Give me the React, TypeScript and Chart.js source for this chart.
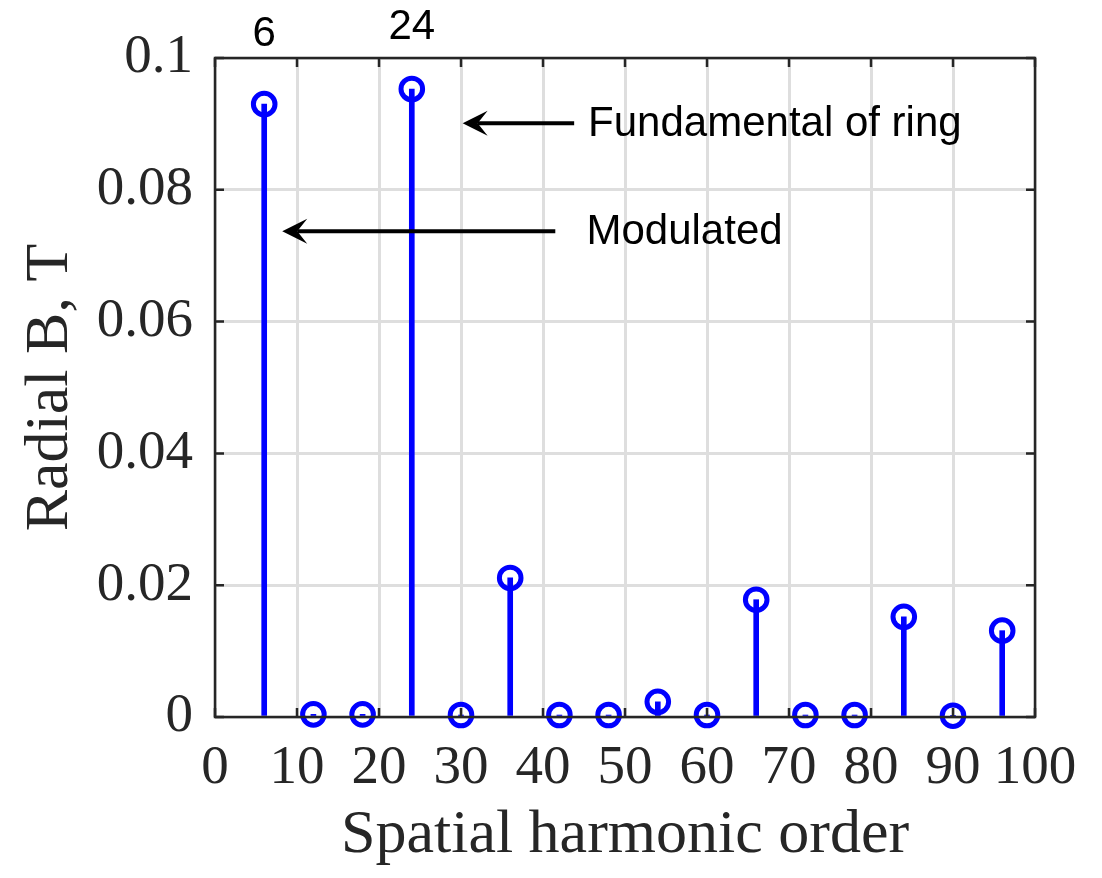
import React, { useEffect, useRef } from 'react';
import { Chart, registerables } from 'chart.js';

Chart.register(...registerables);

// ---- data ----
const harmonicOrders = [6, 12, 18, 24, 30, 36, 42, 48, 54, 60, 66, 72, 78, 84, 90, 96];
const radialB = [0.093, 0.0004, 0.0004, 0.0953, 0.0003, 0.0211, 0.0003, 0.0003, 0.0023, 0.0003, 0.0178, 0.0003, 0.0003, 0.0152, 0.0002, 0.0131];
const xTickValues = [0, 10, 20, 30, 40, 50, 60, 70, 80, 90, 100];
const yTickValues = [0, 0.02, 0.04, 0.06, 0.08, 0.1];
const peakOrders = [6, 24];
const peakLabels = ['6', '24'];
const peakLabelY = [0.1036, 0.1047];
const annotationTexts = ['Fundamental of ring', 'Modulated'];
const annotationTextX = [45.5, 45.3];
const annotationTextY = [0.0899, 0.0735];
const arrowTailX = [43.8, 41.5];
const arrowTipX = [30.2, 8.2];
const arrowY = [0.0901, 0.0737];

const AXIS_COLOR = '#262626';
const STEM_COLOR = '#0000ff';

const decorPlugin = {
  id: 'decor',
  afterDatasetsDraw(chart: any) {
    const ctx = chart.ctx as CanvasRenderingContext2D;
    const { left, right, top, bottom } = chart.chartArea;
    const xs = chart.scales.x;
    const ys = chart.scales.y;
    ctx.save();
    // inner ticks
    ctx.strokeStyle = AXIS_COLOR;
    ctx.lineWidth = 2.5;
    const tl = 9;
    xTickValues.forEach((v) => {
      const px = xs.getPixelForValue(v);
      ctx.beginPath();
      ctx.moveTo(px, bottom);
      ctx.lineTo(px, bottom - tl);
      ctx.moveTo(px, top);
      ctx.lineTo(px, top + tl);
      ctx.stroke();
    });
    yTickValues.forEach((v) => {
      const py = ys.getPixelForValue(v);
      ctx.beginPath();
      ctx.moveTo(left, py);
      ctx.lineTo(left + tl, py);
      ctx.moveTo(right, py);
      ctx.lineTo(right - tl, py);
      ctx.stroke();
    });
    // box
    ctx.lineWidth = 2.5;
    ctx.strokeRect(left, top, right - left, bottom - top);

    // peak labels
    ctx.fillStyle = '#000000';
    ctx.font = '42px "Liberation Sans", Arial, sans-serif';
    ctx.textAlign = 'center';
    ctx.textBaseline = 'middle';
    peakOrders.forEach((o, i) => {
      ctx.fillText(peakLabels[i], xs.getPixelForValue(o), ys.getPixelForValue(peakLabelY[i]));
    });
    // annotation texts
    ctx.textAlign = 'left';
    annotationTexts.forEach((t, i) => {
      ctx.fillText(t, xs.getPixelForValue(annotationTextX[i]), ys.getPixelForValue(annotationTextY[i]));
    });
    // arrows
    ctx.strokeStyle = '#000000';
    ctx.lineWidth = 4;
    arrowTipX.forEach((tipV, i) => {
      const tx = xs.getPixelForValue(tipV);
      const tail = xs.getPixelForValue(arrowTailX[i]);
      const y = ys.getPixelForValue(arrowY[i]);
      const headLen = 25;
      const notch = 15;
      const half = 12.5;
      ctx.beginPath();
      ctx.moveTo(tail, y);
      ctx.lineTo(tx + notch, y);
      ctx.stroke();
      ctx.beginPath();
      ctx.moveTo(tx, y);
      ctx.lineTo(tx + headLen, y - half);
      ctx.lineTo(tx + notch, y);
      ctx.lineTo(tx + headLen, y + half);
      ctx.closePath();
      ctx.fill();
    });
    ctx.restore();
  },
};

export default function App() {
  const canvasRef = useRef<HTMLCanvasElement | null>(null);

  useEffect(() => {
    if (!canvasRef.current) return;
    const points = harmonicOrders.map((x, i) => ({ x, y: radialB[i] }));
    const chart = new Chart(canvasRef.current, {
      type: 'bar',
      data: {
        datasets: [
          {
            type: 'bar',
            label: 'stems',
            data: points,
            backgroundColor: STEM_COLOR,
            borderWidth: 0,
            barThickness: 5,
            order: 2,
          } as any,
          {
            type: 'scatter',
            label: 'markers',
            data: points,
            showLine: false,
            pointStyle: 'circle',
            pointRadius: 10.8,
            pointBorderWidth: 5,
            pointBorderColor: STEM_COLOR,
            pointBackgroundColor: 'rgba(0,0,0,0)',
            clip: false,
            order: 1,
          } as any,
        ],
      },
      options: {
        animation: false,
        responsive: true,
        maintainAspectRatio: false,
        layout: { padding: { top: 58, right: 67, left: 0, bottom: 0 } },
        plugins: { legend: { display: false }, tooltip: { enabled: false } },
        scales: {
          x: {
            type: 'linear',
            min: 0,
            max: 100,
            offset: false,
            grid: { color: '#dedede', lineWidth: 3, drawTicks: false, offset: false },
            border: { display: false },
            afterBuildTicks: (scale: any) => {
              scale.ticks = xTickValues.map((v) => ({ value: v }));
            },
            ticks: {
              autoSkip: false,
              maxRotation: 0,
              minRotation: 0,
              padding: 19,
              color: AXIS_COLOR,
              font: { family: '"Liberation Serif", "Times New Roman", serif', size: 55 },
              callback: (v: any) => String(v),
            },
            title: {
              display: true,
              text: 'Spatial harmonic order',
              color: AXIS_COLOR,
              font: { family: '"Liberation Serif", "Times New Roman", serif', size: 62 },
              padding: { top: 0, bottom: 5 },
            },
            afterFit: (scale: any) => {
              scale.height = 161;
            },
          },
          y: {
            type: 'linear',
            min: 0,
            max: 0.1,
            grid: { color: '#dedede', lineWidth: 3, drawTicks: false },
            border: { display: false },
            afterBuildTicks: (scale: any) => {
              scale.ticks = yTickValues.map((v) => ({ value: v }));
            },
            ticks: {
              padding: 22,
              color: AXIS_COLOR,
              font: { family: '"Liberation Serif", "Times New Roman", serif', size: 55 },
              callback: (v: any) => String(Math.round(Number(v) * 100) / 100),
            },
            title: {
              display: true,
              text: 'Radial B, T',
              color: AXIS_COLOR,
              font: { family: '"Liberation Serif", "Times New Roman", serif', size: 62 },
              padding: { top: 14, bottom: 0 },
            },
            afterFit: (scale: any) => {
              scale.width = 215;
            },
          },
        },
      },
      plugins: [decorPlugin],
    } as any);
    return () => chart.destroy();
  }, []);

  return (
    <div style={{ position: 'fixed', left: 0, top: 0, width: 1102, height: 878, background: '#ffffff' }}>
      <canvas ref={canvasRef} />
    </div>
  );
}
